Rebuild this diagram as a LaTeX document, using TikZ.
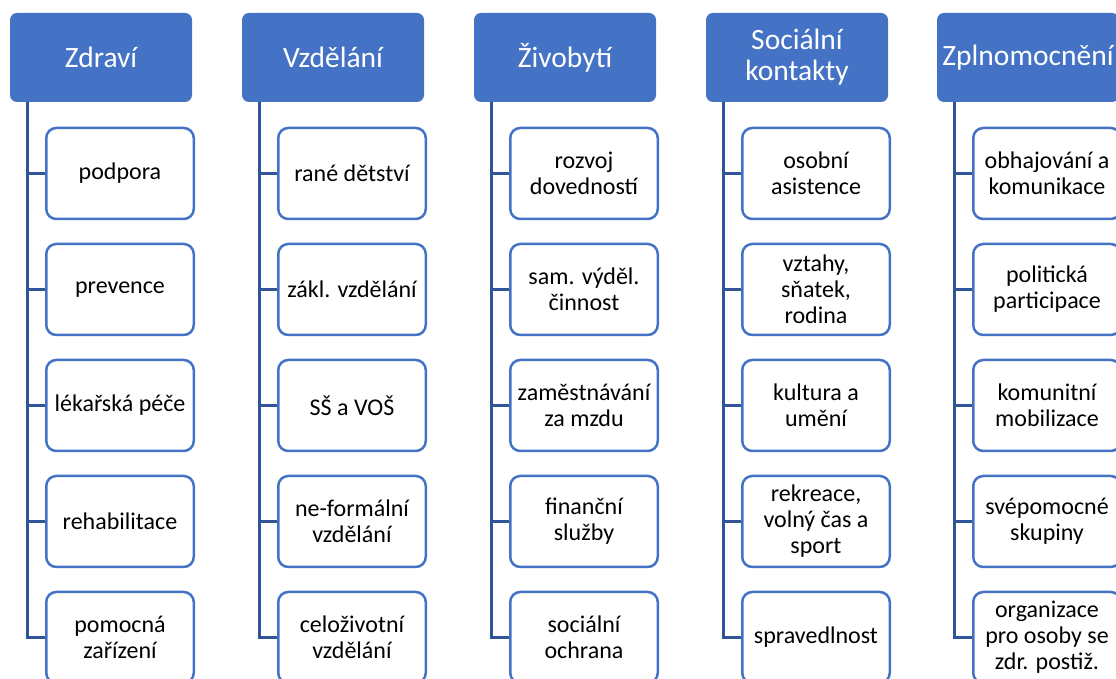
\documentclass[tikz,border=0pt]{standalone}
\usepackage{fontspec}
\setmainfont{Carlito}
\definecolor{hdrblue}{HTML}{4472C4}
\definecolor{linkblue}{HTML}{2F5597}
\tikzset{
  oblast/.style={rectangle, rounded corners=7pt, fill=hdrblue, text=white,
    minimum width=182pt, minimum height=89pt, align=center,
    font=\fontsize{29.5}{31}\selectfont},
  polozka/.style={rectangle, rounded corners=10pt, draw=hdrblue, line width=2.5pt,
    fill=white, minimum width=147.5pt, minimum height=91pt, align=center,
    font=\fontsize{24}{26}\selectfont},
  vetev/.style={draw=linkblue, line width=3pt}
}
\begin{document}
\begin{tikzpicture}[x=1pt,y=1pt]
		\clip (0,0) rectangle (1116,679);
		\fill[white] (0,0) rectangle (1116,679);

		% hlavni oblasti
		\node[oblast] (zdravi) at (101, 621.5) {Zdraví};
		\node[oblast] (vzdel) at (333, 621.5) {Vzdělání};
		\node[oblast] (zivob) at (565, 621.5) {Živobytí};
		\node[oblast] (social) at (797, 621.5) {Sociální\\kontakty};
		\node[oblast] (zplnom) at (1028, 621.5) {Zplnomocnění};

		% body pro svisle vetve
		\coordinate (zdravi-v) at ([xshift=18pt]zdravi.south west);
		\coordinate (vzdel-v) at ([xshift=18pt]vzdel.south west);
		\coordinate (zivob-v) at ([xshift=18pt]zivob.south west);
		\coordinate (social-v) at ([xshift=18pt]social.south west);
		\coordinate (zplnom-v) at ([xshift=18pt]zplnom.south west);

		% Zdravi
		\node[polozka] (zdravi1) at (120, 505.5) {podpora};
		\node[polozka] (zdravi2) at (120, 389.5) {prevence};
		\node[polozka] (zdravi3) at (120, 273.5) {lékařská péče};
		\node[polozka] (zdravi4) at (120, 157.5) {rehabilitace};
		\node[polozka] (zdravi5) at (120, 41.5) {pomocná\\zařízení};

		% Vzdelani
		\node[polozka] (vzdel1) at (352, 505.5) {rané dětství};
		\node[polozka] (vzdel2) at (352, 389.5) {zákl. vzdělání};
		\node[polozka] (vzdel3) at (352, 273.5) {SŠ a VOŠ};
		\node[polozka] (vzdel4) at (352, 157.5) {ne-formální\\vzdělání};
		\node[polozka] (vzdel5) at (352, 41.5) {celoživotní\\vzdělání};

		% Zivobyti
		\node[polozka] (zivob1) at (584, 505.5) {rozvoj\\dovedností};
		\node[polozka] (zivob2) at (584, 389.5) {sam. výděl.\\činnost};
		\node[polozka] (zivob3) at (584, 273.5) {zaměstnávání\\za mzdu};
		\node[polozka] (zivob4) at (584, 157.5) {finanční\\služby};
		\node[polozka] (zivob5) at (584, 41.5) {sociální\\ochrana};

		% Socialni kontakty
		\node[polozka] (social1) at (816, 505.5) {osobní\\asistence};
		\node[polozka] (social2) at (816, 389.5) {vztahy,\\sňatek,\\rodina};
		\node[polozka] (social3) at (816, 273.5) {kultura a\\umění};
		\node[polozka] (social4) at (816, 157.5) {rekreace,\\volný čas a\\sport};
		\node[polozka] (social5) at (816, 41.5) {spravedlnost};

		% Zplnomocneni
		\node[polozka] (zplnom1) at (1047, 505.5) {obhajování a\\komunikace};
		\node[polozka] (zplnom2) at (1047, 389.5) {politická\\participace};
		\node[polozka] (zplnom3) at (1047, 273.5) {komunitní\\mobilizace};
		\node[polozka] (zplnom4) at (1047, 157.5) {svépomocné\\skupiny};
		\node[polozka] (zplnom5) at (1047, 41.5) {organizace\\pro osoby se\\zdr. postiž.};

		% vetve
		\draw[vetev] (zdravi-v) |- (zdravi1.west);
		\draw[vetev] (zdravi-v) |- (zdravi2.west);
		\draw[vetev] (zdravi-v) |- (zdravi3.west);
		\draw[vetev] (zdravi-v) |- (zdravi4.west);
		\draw[vetev] (zdravi-v) |- (zdravi5.west);

		\draw[vetev] (vzdel-v) |- (vzdel1.west);
		\draw[vetev] (vzdel-v) |- (vzdel2.west);
		\draw[vetev] (vzdel-v) |- (vzdel3.west);
		\draw[vetev] (vzdel-v) |- (vzdel4.west);
		\draw[vetev] (vzdel-v) |- (vzdel5.west);

		\draw[vetev] (zivob-v) |- (zivob1.west);
		\draw[vetev] (zivob-v) |- (zivob2.west);
		\draw[vetev] (zivob-v) |- (zivob3.west);
		\draw[vetev] (zivob-v) |- (zivob4.west);
		\draw[vetev] (zivob-v) |- (zivob5.west);

		\draw[vetev] (social-v) |- (social1.west);
		\draw[vetev] (social-v) |- (social2.west);
		\draw[vetev] (social-v) |- (social3.west);
		\draw[vetev] (social-v) |- (social4.west);
		\draw[vetev] (social-v) |- (social5.west);

		\draw[vetev] (zplnom-v) |- (zplnom1.west);
		\draw[vetev] (zplnom-v) |- (zplnom2.west);
		\draw[vetev] (zplnom-v) |- (zplnom3.west);
		\draw[vetev] (zplnom-v) |- (zplnom4.west);
		\draw[vetev] (zplnom-v) |- (zplnom5.west);
	\end{tikzpicture}
\end{document}
